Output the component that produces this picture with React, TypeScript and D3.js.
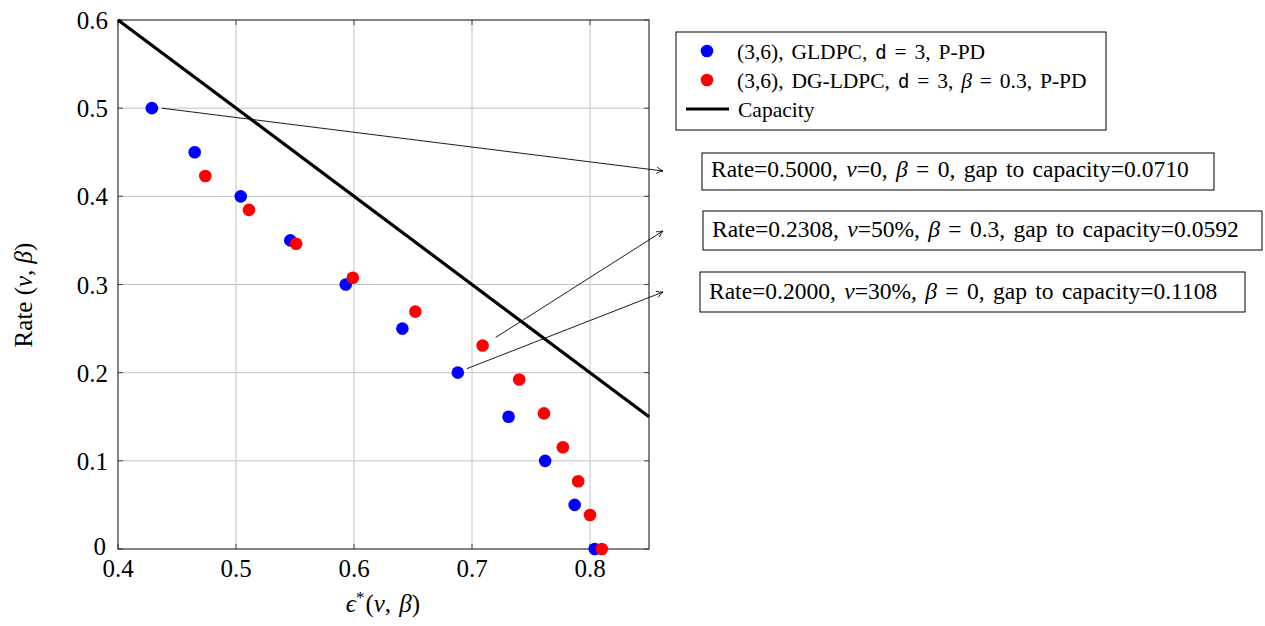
import React from "react";
import * as d3 from "d3";

const xTicks = [0.4, 0.5, 0.6, 0.7, 0.8];
const yTicks = [0, 0.1, 0.2, 0.3, 0.4, 0.5, 0.6];

const gldpcEps = [0.4287, 0.465, 0.504, 0.546, 0.593, 0.641, 0.688, 0.731, 0.762, 0.787, 0.804];
const gldpcRate = [0.5, 0.45, 0.4, 0.35, 0.3, 0.25, 0.2, 0.15, 0.1, 0.05, 0];

const dgEps = [0.474, 0.511, 0.551, 0.599, 0.652, 0.709, 0.74, 0.761, 0.777, 0.79, 0.8, 0.81];
const dgRate = [0.4231, 0.3846, 0.3462, 0.3077, 0.2692, 0.2308, 0.1923, 0.1538, 0.1154, 0.0769, 0.0385, 0];

const capacityEps = [0.4, 0.85];

const W = 1265, H = 626;
const x = d3.scaleLinear().domain([0.4, 0.85]).range([118, 649]);
const y = d3.scaleLinear().domain([0, 0.6]).range([549, 20]);

const serif = "'Liberation Serif', 'DejaVu Serif', serif";
const mono = "'DejaVu Sans Mono', 'Liberation Mono', monospace";

function M({ c }: { c: string }) {
  return <tspan fontStyle="italic">{c}</tspan>;
}

export default function App() {
  const line = d3.line<number>().x((e) => x(e)).y((e) => y(1 - e));
  const tails = [
    [x(gldpcEps[0]) + 10, y(gldpcRate[0])],
    [x(dgEps[5]) + 13, y(dgRate[5]) - 8],
    [x(gldpcEps[6]) + 9, y(gldpcRate[6]) - 4],
  ];
  const heads = [
    [663, 171],
    [663, 231],
    [663, 292],
  ];
  return (
    <svg width={W} height={H} style={{ position: "absolute", left: 0, top: 0 }} fontFamily={serif}>
      <defs>
        <marker id="arr" viewBox="0 0 10 10" refX="9" refY="5" markerWidth="8" markerHeight="8" orient="auto" markerUnits="userSpaceOnUse">
          <path d="M1,1 Q5,4 9,5 Q5,6 1,9" fill="none" stroke="#000" strokeWidth="1" />
        </marker>
      </defs>
      <rect width={W} height={H} fill="#fff" />
      {xTicks.slice(1).map((t) => (
        <line key={"gx" + t} x1={x(t)} x2={x(t)} y1={y(0)} y2={y(0.6)} stroke="#c4c4c4" strokeWidth={1} />
      ))}
      {yTicks.slice(1, -1).map((t) => (
        <line key={"gy" + t} x1={x(0.4)} x2={x(0.85)} y1={y(t)} y2={y(t)} stroke="#c4c4c4" strokeWidth={1} />
      ))}
      {xTicks.map((t) => (
        <g key={"tx" + t}>
          <line x1={x(t)} x2={x(t)} y1={y(0)} y2={y(0) - 5} stroke="#444" />
          <line x1={x(t)} x2={x(t)} y1={y(0.6)} y2={y(0.6) + 5} stroke="#444" />
        </g>
      ))}
      {yTicks.map((t) => (
        <g key={"ty" + t}>
          <line x1={x(0.4)} x2={x(0.4) + 5} y1={y(t)} y2={y(t)} stroke="#444" />
          <line x1={x(0.85)} x2={x(0.85) - 5} y1={y(t)} y2={y(t)} stroke="#444" />
        </g>
      ))}
      <rect x={x(0.4)} y={y(0.6)} width={x(0.85) - x(0.4)} height={y(0) - y(0.6)} fill="none" stroke="#333" strokeWidth={1.2} />
      <path d={line(capacityEps) || ""} stroke="#000" strokeWidth={3.2} fill="none" />
      {gldpcEps.map((e, i) => (
        <circle key={"b" + i} cx={x(e)} cy={y(gldpcRate[i])} r={6.3} fill="#0000ff" />
      ))}
      {dgEps.map((e, i) => (
        <circle key={"r" + i} cx={x(e)} cy={y(dgRate[i])} r={6.3} fill="#ff0000" />
      ))}
      {xTicks.map((t) => (
        <text key={"lx" + t} x={x(t)} y={y(0) + 28} textAnchor="middle" fontSize={25}>
          {t.toFixed(1)}
        </text>
      ))}
      {yTicks.map((t) => (
        <text key={"ly" + t} x={x(0.4) - (t === 0 ? 12 : 10)} y={y(t) + (t === 0 ? 6 : 9)} textAnchor="end" fontSize={25}>
          {t === 0 ? "0" : t.toFixed(1)}
        </text>
      ))}
      <text x={383} y={612} textAnchor="middle" fontSize={25} wordSpacing={2}>
        <M c="ϵ" />
        <tspan fontSize={17} dy={-9}>*</tspan>
        <tspan dy={9} dx={1}>(</tspan>
        <M c="ν" />
        <tspan>, </tspan>
        <M c="β" />
        <tspan>)</tspan>
      </text>
      <text transform="translate(32,295) rotate(-90)" textAnchor="middle" fontSize={25}>
        <tspan>Rate (</tspan>
        <M c="ν" />
        <tspan>, </tspan>
        <M c="β" />
        <tspan>)</tspan>
      </text>
      <rect x={676} y={32} width={430} height={98} fill="#fff" stroke="#000" strokeWidth={1} />
      <circle cx={707} cy={51} r={6.3} fill="#0000ff" />
      <circle cx={707} cy={80} r={6.3} fill="#ff0000" />
      <line x1={686} x2={729} y1={109} y2={109} stroke="#000" strokeWidth={3.2} />
      <g fontSize={21.5} wordSpacing={2.5}>
        <text x={737} y={58.5}>
          (3,6), GLDPC, <tspan fontFamily={mono} fontSize={19}>d</tspan> = 3, P-PD
        </text>
        <text x={737} y={87.5}>
          (3,6), DG-LDPC, <tspan fontFamily={mono} fontSize={19}>d</tspan> = 3, <M c="β" /> = 0.3, P-PD
        </text>
        <text x={738} y={116.5}>Capacity</text>
      </g>
      {tails.map((a, i) => (
        <line key={"a" + i} x1={a[0]} y1={a[1]} x2={heads[i][0]} y2={heads[i][1]} stroke="#000" strokeWidth={0.9} markerEnd="url(#arr)" />
      ))}
      <rect x={702} y={153} width={512} height={37} fill="#fff" stroke="#000" />
      <rect x={703} y={211} width={559} height={39} fill="#fff" stroke="#000" />
      <rect x={700} y={272} width={545} height={40} fill="#fff" stroke="#000" />
      <g fontSize={23.5} wordSpacing={2.5}>
        <text x={711} y={177}>
          Rate=0.5000, <M c="ν" />=0, <M c="β" /> = 0, gap to capacity=0.0710
        </text>
        <text x={712} y={237}>
          Rate=0.2308, <M c="ν" />=50%, <M c="β" /> = 0.3, gap to capacity=0.0592
        </text>
        <text x={709} y={299}>
          Rate=0.2000, <M c="ν" />=30%, <M c="β" /> = 0, gap to capacity=0.1108
        </text>
      </g>
    </svg>
  );
}
